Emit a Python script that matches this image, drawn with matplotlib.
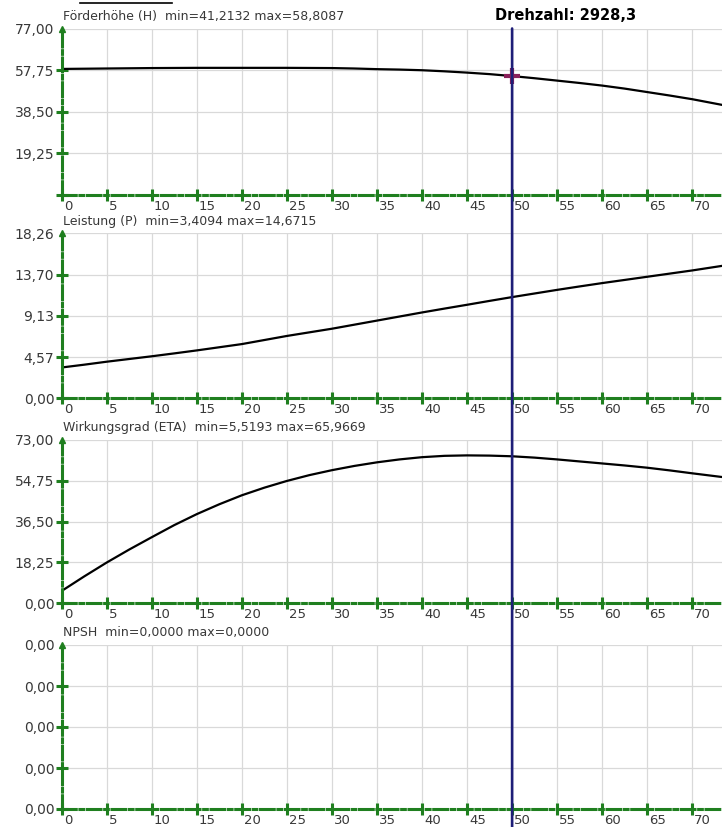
import matplotlib
matplotlib.use('Agg')
import matplotlib.pyplot as plt
import matplotlib.transforms as mtransforms
from matplotlib.patches import ConnectionPatch
from matplotlib.lines import Line2D
import numpy as np

# data
q = [0, 2.5, 5, 7.5, 10, 12.5, 15, 17.5, 20, 22.5, 25, 27.5, 30, 32.5, 35,
     37.5, 40, 42.5, 45, 47.5, 50, 52.5, 55, 57.5, 60, 62.5, 65, 67.5, 70, 73.4]
foerderhoehe = [58.3, 58.4, 58.5, 58.6, 58.7, 58.75, 58.8, 58.8, 58.8, 58.8,
                58.8, 58.75, 58.7, 58.5, 58.2, 58.0, 57.7, 57.2, 56.6, 55.9,
                55.0, 54.0, 52.9, 51.8, 50.6, 49.2, 47.6, 46.0, 44.3, 41.6]
leistung = [3.41, 3.72, 4.05, 4.35, 4.65, 4.97, 5.3, 5.65, 6.0, 6.45,
            6.9, 7.3, 7.7, 8.15, 8.6, 9.05, 9.5, 9.93, 10.35, 10.78,
            11.2, 11.6, 12.0, 12.38, 12.75, 13.1, 13.45, 13.8, 14.15, 14.67]
wirkungsgrad = [5.52, 12.0, 18.2, 24.0, 29.5, 34.9, 39.8, 44.2, 48.2, 51.6,
                54.6, 57.2, 59.4, 61.3, 62.9, 64.2, 65.2, 65.8, 66.0, 65.9,
                65.6, 65.0, 64.2, 63.3, 62.4, 61.5, 60.5, 59.3, 58.0, 56.3]
npsh = [0.0] * len(q)

titles = ['Förderhöhe (H)  min=41,2132 max=58,8087',
          'Leistung (P)  min=3,4094 max=14,6715',
          'Wirkungsgrad (ETA)  min=5,5193 max=65,9669',
          'NPSH  min=0,0000 max=0,0000']
y_max = [77.0, 18.26, 73.0, 1.0]
y_labels = [['', '19,25', '38,50', '57,75', '77,00'],
            ['0,00', '4,57', '9,13', '13,70', '18,26'],
            ['0,00', '18,25', '36,50', '54,75', '73,00'],
            ['0,00', '0,00', '0,00', '0,00', '0,00']]
x_ticks = list(range(0, 75, 5))
drehzahl_x = 50
drehzahl_text = 'Drehzahl: 2928,3'
marker_y = 55.0

W, H = 722, 827
fig = plt.figure(figsize=(W / 100, H / 100), dpi=100)
fig.patch.set_facecolor('white')

green = '#1f7f1f'
txt = '#383838'
dashdot = (0, (4.5, 1.2, 1.2, 1.2))
panels = [(28.5, 195), (233.3, 398.3), (439.7, 603.3), (645, 809)]
x_left = 61.7
x_right = 73.3

series = [foerderhoehe, leistung, wirkungsgrad, npsh]
axes = []
for i, (top, bot) in enumerate(panels):
    ax = fig.add_axes([x_left / W, 1 - bot / H, (W - x_left) / W, (bot - top) / H])
    ax.set_xlim(0, x_right)
    ax.set_ylim(0, y_max[i])
    ax.set_yticks(np.linspace(0, y_max[i], 5))
    ax.set_yticklabels(y_labels[i], fontsize=10)
    ax.set_xticks(x_ticks)
    ax.set_xticklabels([str(t) for t in x_ticks], fontsize=9.5)
    ax.grid(True, color='#d9d9d9', lw=0.9)
    ax.set_axisbelow(True)
    for s in ['top', 'right']:
        ax.spines[s].set_visible(False)
    for s in ['left', 'bottom']:
        ax.spines[s].set_color(green)
        ax.spines[s].set_linewidth(2.2)
        ax.spines[s].set_linestyle(dashdot)
        ax.spines[s].set_zorder(5)
    ax.tick_params(axis='both', direction='inout', length=8.5, width=2.2,
                   color=green, labelcolor=txt)
    ax.tick_params(axis='y', pad=1)
    ax.tick_params(axis='x', pad=-1)
    off = mtransforms.ScaledTranslation(2 / 100, 0, fig.dpi_scale_trans)
    for lbl in ax.get_xticklabels():
        lbl.set_ha('left')
        lbl.set_transform(lbl.get_transform() + off)
    # top of the y axis carries an arrow head instead of a tick
    ax.yaxis.get_major_ticks()[-1].tick1line.set_visible(False)
    if i < 3:
        ax.plot(q, series[i], color='black', lw=1.6, zorder=3)
    ax.plot([0], [y_max[i]], marker='^', ms=4, color=green, clip_on=False, zorder=6)
    ax.annotate(titles[i], xy=(0, 1), xycoords='axes fraction',
                xytext=(1, 4), textcoords='offset points',
                ha='left', va='bottom', fontsize=9, color=txt)
    axes.append(ax)

# operating point marker
axes[0].plot([drehzahl_x], [marker_y], marker='+', ms=11, mew=3,
             color='#8a1f5a', zorder=4)

# vertical speed line through all panels
trans_bottom = mtransforms.blended_transform_factory(axes[3].transData, fig.transFigure)
con = ConnectionPatch(xyA=(drehzahl_x, y_max[0]), coordsA=axes[0].transData,
                      xyB=(drehzahl_x, 0), coordsB=trans_bottom,
                      color='#1e1e78', lw=1.9, zorder=10)
fig.add_artist(con)

axes[0].annotate(drehzahl_text, xy=(drehzahl_x, y_max[0]), xycoords='data',
                 xytext=(-12, 4), textcoords='offset points',
                 ha='left', va='bottom', fontsize=10.5, fontweight='bold', color='black')

# clipped underline of the header at the very top
fig.add_artist(Line2D([80 / W, 172 / W], [1 - 3 / H, 1 - 3 / H],
                      color='black', lw=1.2, transform=fig.transFigure))

fig.savefig('out.png', dpi=100)
